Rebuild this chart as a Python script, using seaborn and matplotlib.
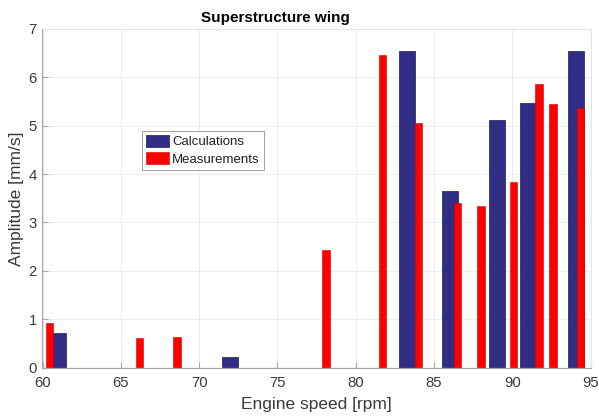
import numpy as np
import pandas as pd
import matplotlib
matplotlib.use("Agg")
import matplotlib.pyplot as plt
import seaborn as sns

# ---- data ----
calc_speed = [61.0, 72.0, 83.3, 86.0, 89.0, 91.0, 94.1]
calc_amp = [0.71, 0.21, 6.54, 3.64, 5.12, 5.48, 6.55]
meas_speed = [60.45, 66.2, 68.6, 78.1, 81.7, 84.0, 86.5, 88.0, 90.1, 91.7, 92.6, 94.35]
meas_amp = [0.92, 0.61, 0.64, 2.43, 6.46, 5.05, 3.40, 3.34, 3.83, 5.86, 5.45, 5.36]
x_ticks = [60, 65, 70, 75, 80, 85, 90, 95]
y_ticks = [0, 1, 2, 3, 4, 5, 6, 7]
title = "Superstructure wing"
xlabel = "Engine speed [rpm]"
ylabel = "Amplitude [mm/s]"
labels = ["Calculations", "Measurements"]

sns.set_theme(style="whitegrid")
plt.rcParams["font.family"] = ["Liberation Sans", "DejaVu Sans"]

BLUE = "#322d84"
RED = "#ff0000"

calc_df = pd.DataFrame({"speed": calc_speed, "amp": calc_amp})
meas_df = pd.DataFrame({"speed": meas_speed, "amp": meas_amp})

fig = plt.figure(figsize=(5.99, 4.18), dpi=100)
ax = fig.add_axes([42.5 / 599, 1 - 367.5 / 418, 548 / 599, 338.5 / 418])

calc_w = 1.02 / np.min(np.diff(np.unique(calc_speed)))
meas_w = 0.47 / np.min(np.diff(np.unique(meas_speed)))

sns.barplot(data=calc_df, x="speed", y="amp", native_scale=True, orient="x",
            errorbar=None, color=BLUE, saturation=1, width=calc_w,
            edgecolor="#1e1a5a", linewidth=0.5, label=labels[0], ax=ax)
sns.barplot(data=meas_df, x="speed", y="amp", native_scale=True, orient="x",
            errorbar=None, color=RED, saturation=1, width=meas_w,
            edgecolor="#d00000", linewidth=0.4, label=labels[1], ax=ax)

ax.set_xlim(60, 95)
ax.set_ylim(0, 7)
ax.set_xticks(x_ticks)
ax.set_yticks(y_ticks)
ax.set_facecolor("white")
ax.grid(True, color="#ededed", linewidth=0.8)
ax.set_axisbelow(True)

for side in ["left", "bottom"]:
    ax.spines[side].set_visible(True)
    ax.spines[side].set_color("#a8a8a8")
    ax.spines[side].set_linewidth(0.9)
for side in ["top", "right"]:
    ax.spines[side].set_visible(True)
    ax.spines[side].set_color("#e6e6e6")
    ax.spines[side].set_linewidth(0.8)

ax.tick_params(axis="both", direction="in", length=4, width=0.8, color="#a8a8a8",
               labelcolor="#3a3a3a", labelsize=10.7)
ax.tick_params(axis="x", pad=6, bottom=True, top=False)
ax.tick_params(axis="y", pad=4, left=True, right=False)

ax.set_title(title, fontsize=11, fontweight="bold", x=0.425, pad=5, color="black")
ax.set_xlabel(xlabel, fontsize=12.5, color="#3a3a3a", labelpad=5.5)
ax.set_ylabel(ylabel, fontsize=12.5, color="#3a3a3a", labelpad=3)

leg = ax.legend(loc="upper left", bbox_to_anchor=(0.181, 0.70), borderaxespad=0,
                fontsize=9.5, frameon=True, fancybox=False, framealpha=1,
                handlelength=1.8, handleheight=1.05, handletextpad=0.2,
                labelspacing=0.3, borderpad=0.3)
leg.get_frame().set_edgecolor("#a0a0a0")
leg.get_frame().set_linewidth(0.7)
for t in leg.get_texts():
    t.set_color("#202020")

fig.savefig("out.png", dpi=100)
